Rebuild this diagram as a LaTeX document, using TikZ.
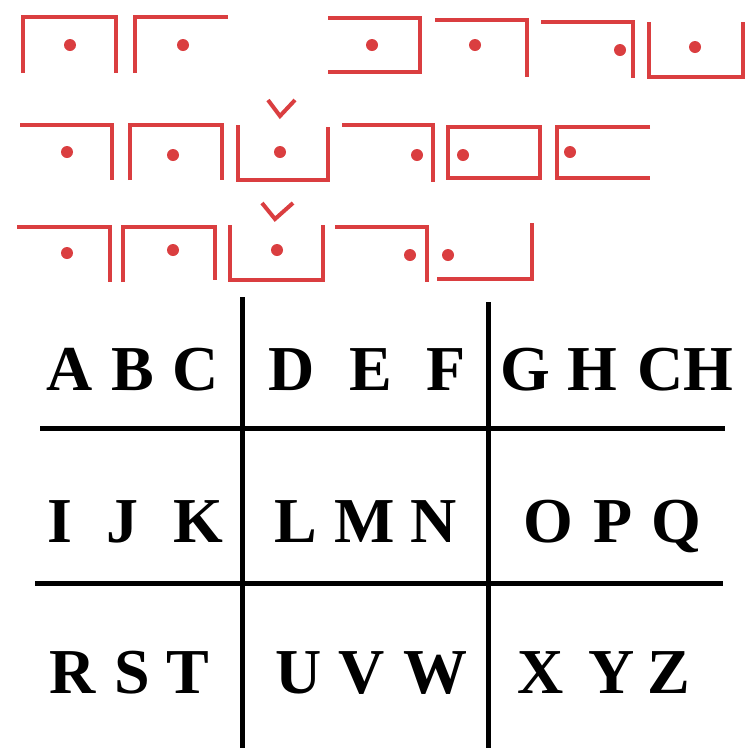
\documentclass[tikz,border=0pt]{standalone}
\usepackage{fontspec}
\setmainfont{Liberation Serif}
\definecolor{pigred}{RGB}{218,62,64}
\tikzset{
  pig/.style={draw=pigred, line width=4pt},
  pigdot/.style={fill=pigred},
  gridline/.style={draw=black, line width=5pt},
  letter/.style={anchor=base, inner sep=0pt, font=\fontsize{64}{64}\selectfont\bfseries}
}
\begin{document}
\begin{tikzpicture}[x=1pt,y=-1pt]
\useasboundingbox (0,0) rectangle (750,748);

% first line of the message
\draw[pig] (23,73) -- (23,17) -- (116,17) -- (116,73);
\fill[pigdot] (70,45) circle (6);
\draw[pig] (135,73) -- (135,17) -- (228,17);
\fill[pigdot] (183,45) circle (6);
\draw[pig] (328,18) -- (420,18) -- (420,72) -- (328,72);
\fill[pigdot] (372,45) circle (6);
\draw[pig] (435,20) -- (527,20) -- (527,77);
\fill[pigdot] (475,45) circle (6);
\draw[pig] (541,22) -- (633,22) -- (633,78);
\fill[pigdot] (620,50) circle (6);
\draw[pig] (649,22) -- (649,77) -- (743,77) -- (743,22);
\fill[pigdot] (695,47) circle (6);

% second line
\draw[pig] (20,125) -- (112,125) -- (112,180);
\fill[pigdot] (67,152) circle (6);
\draw[pig] (130,180) -- (130,125) -- (222,125) -- (222,180);
\fill[pigdot] (173,155) circle (6);
\draw[pig] (238,125) -- (238,180) -- (328,180) -- (328,127);
\fill[pigdot] (280,152) circle (6);
\draw[pig] (268,100) -- (280,116) -- (295,100);
\draw[pig] (342,125) -- (433,125) -- (433,182);
\fill[pigdot] (417,155) circle (6);
\draw[pig] (448,127) rectangle (540,178);
\fill[pigdot] (463,155) circle (6);
\draw[pig] (650,127) -- (557,127) -- (557,178) -- (650,178);
\fill[pigdot] (570,152) circle (6);

% third line
\draw[pig] (17,227) -- (110,227) -- (110,282);
\fill[pigdot] (67,253) circle (6);
\draw[pig] (123,282) -- (123,227) -- (215,227) -- (215,280);
\fill[pigdot] (173,250) circle (6);
\draw[pig] (230,225) -- (230,280) -- (323,280) -- (323,225);
\fill[pigdot] (277,250) circle (6);
\draw[pig] (262,203) -- (275,219) -- (293,203);
\draw[pig] (335,227) -- (427,227) -- (427,282);
\fill[pigdot] (410,255) circle (6);
\draw[pig] (437,279) -- (532,279) -- (532,223);
\fill[pigdot] (448,255) circle (6);

% key grid
\draw[gridline] (242,297) -- (242,748);
\draw[gridline] (488,302) -- (488,748);
\draw[gridline] (40,428) -- (725,428);
\draw[gridline] (35,583) -- (723,583);

\node[letter] (lA) at (70,390) {A};
\node[letter] (lB) at (133,390) {B};
\node[letter] (lC) at (196,390) {C};
\node[letter] (lD) at (292,390) {D};
\node[letter] (lE) at (371,390) {E};
\node[letter] (lF) at (446,390) {F};
\node[letter] (lG) at (525,390) {G};
\node[letter] (lH) at (592,390) {H};
\node[letter] (lCH) at (685,390) {CH};

\node[letter] (lI) at (60,542) {I};
\node[letter] (lJ) at (122,542) {J};
\node[letter] (lK) at (198,542) {K};
\node[letter] (lL) at (296,542) {L};
\node[letter] (lM) at (365,542) {M};
\node[letter] (lN) at (434,542) {N};
\node[letter] (lO) at (548,542) {O};
\node[letter] (lP) at (613,542) {P};
\node[letter] (lQ) at (676,542) {Q};

\node[letter] (lR) at (73,693) {R};
\node[letter] (lS) at (132,693) {S};
\node[letter] (lT) at (188,693) {T};
\node[letter] (lU) at (299,693) {U};
\node[letter] (lV) at (362,693) {V};
\node[letter] (lW) at (435,693) {W};
\node[letter] (lX) at (541,693) {X};
\node[letter] (lY) at (612,693) {Y};
\node[letter] (lZ) at (669,693) {Z};
\end{tikzpicture}
\end{document}
